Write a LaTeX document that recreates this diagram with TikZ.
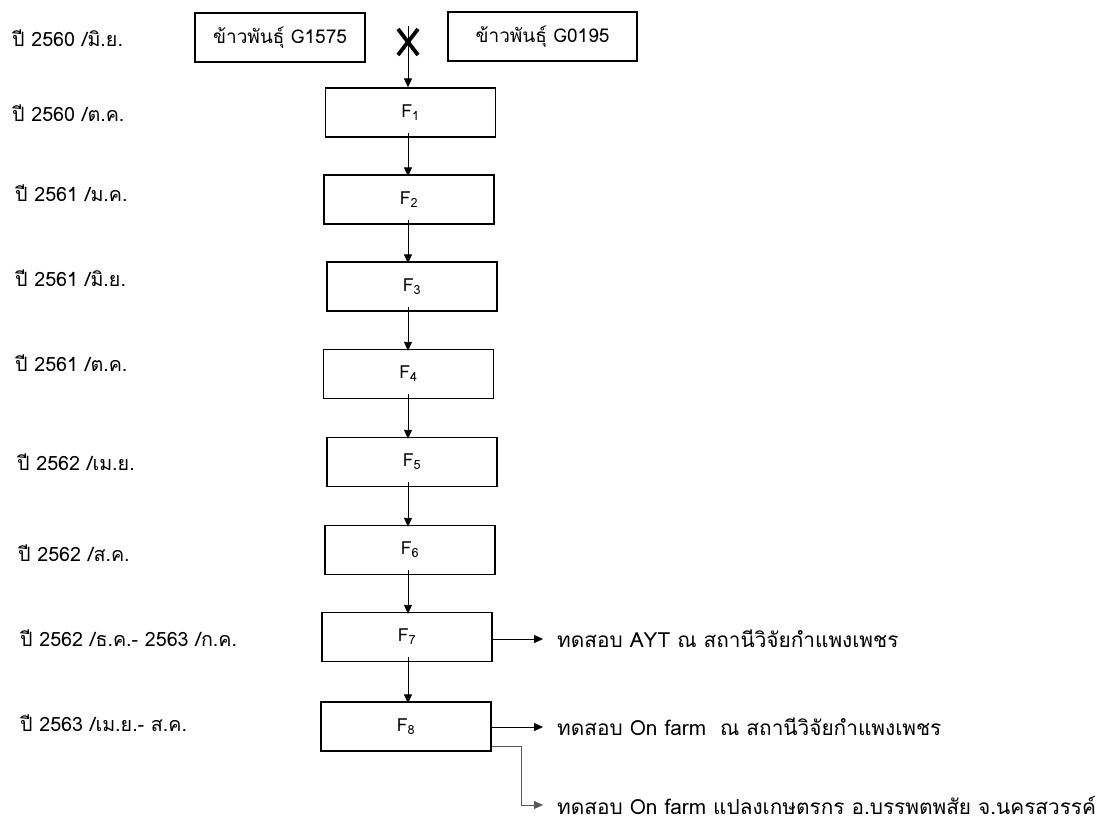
\documentclass[tikz,border=0pt]{standalone}
\usepackage{fontspec}
\setmainfont[Script=Thai]{Loma}
\usetikzlibrary{arrows.meta}
\tikzset{
  box/.style={draw, line width=1.3pt, minimum width=170pt, minimum height=49pt, inner sep=0pt, font=\fontsize{18}{21}\selectfont},
  pbox/.style={box, font=\fontsize{19}{22}\selectfont},
  lbl/.style={anchor=west, inner sep=0pt, font=\fontsize{19.7}{22}\selectfont},
  outtext/.style={anchor=west, inner sep=0pt, font=\fontsize{20.8}{24}\selectfont},
  arr/.style={line width=0.8pt, -{Triangle[length=9pt,width=8pt]}},
  br/.style={line width=0.8pt, draw=black!65},
}
\begin{document}
\begin{tikzpicture}[x=1pt,y=-1pt]
\useasboundingbox (0,0) rectangle (1119,827);
% left labels
\node[lbl] (l0) at (12,38) {ปี 2560 /มิ.ย.};
\node[lbl] (l1) at (12,113) {ปี 2560 /ต.ค.};
\node[lbl] (l2) at (15,193) {ปี 2561 /ม.ค.};
\node[lbl] (l3) at (15,278) {ปี 2561 /มิ.ย.};
\node[lbl] (l4) at (15,363) {ปี 2561 /ต.ค.};
\node[lbl] (l5) at (17,462) {ปี 2562 /เม.ย.};
\node[lbl] (l6) at (18,553) {ปี 2562 /ส.ค.};
\node[lbl] (l7) at (20,638) {ปี 2562 /ธ.ค.- 2563 /ก.ค.};
\node[lbl] (l8) at (20,723) {ปี 2563 /เม.ย.- ส.ค.};
% parents
\node[pbox] (g1) at (280,37.5) {ข้าวพันธุ์ G1575};
\node[pbox, minimum width=189pt] (g2) at (542.5,36.5) {ข้าวพันธุ์ G0195};
\coordinate (X) at (408,42);
\draw[line width=3.8pt] ([shift={(-10,-13)}]X) -- ([shift={(10,13)}]X);
\draw[line width=3.8pt] ([shift={(10,-13)}]X) -- ([shift={(-10,13)}]X);
% generations
\node[box] (F1) at (410.5,112.5) {F\textsubscript{1}};
\node[box] (F2) at (409,199.5) {F\textsubscript{2}};
\node[box] (F3) at (412,286.5) {F\textsubscript{3}};
\node[box] (F4) at (408.5,374) {F\textsubscript{4}};
\node[box] (F5) at (412,462) {F\textsubscript{5}};
\node[box] (F6) at (410,550) {F\textsubscript{6}};
\node[box] (F7) at (407,637) {F\textsubscript{7}};
\node[box] (F8) at (406,726.5) {F\textsubscript{8}};
% vertical arrows
\draw[arr] ([yshift=16]X) -- (F1.north -| X);
\foreach \a/\b in {F1/F2,F2/F3,F3/F4,F4/F5,F5/F6,F6/F7,F7/F8}
  \draw[arr] ([yshift=5]\a.south -| X) -- ([yshift=-2]\b.north -| X);
% right outputs
\node[outtext] (t1) at (557,639) {ทดสอบ AYT ณ สถานีวิจัยกำแพงเพชร};
\node[outtext] (t2) at (557,727) {ทดสอบ On farm~~ณ สถานีวิจัยกำแพงเพชร};
\node[outtext] (t3) at (557,805) {ทดสอบ On farm แปลงเกษตรกร อ.บรรพตพสัย จ.นครสวรรค์};
\coordinate (e1) at (543,639);
\coordinate (e2) at (543,727);
\coordinate (e3) at (543,805);
\draw[arr] (F7.east |- e1) -- (e1);
\draw[arr] (F8.east |- e2) -- (e2);
\coordinate (b1) at (521,746);
\draw[br] (F8.east |- b1) -- (b1) -- (b1 |- e3);
\draw[arr, draw=black!65] (b1 |- e3) -- (e3);
\end{tikzpicture}
\end{document}
